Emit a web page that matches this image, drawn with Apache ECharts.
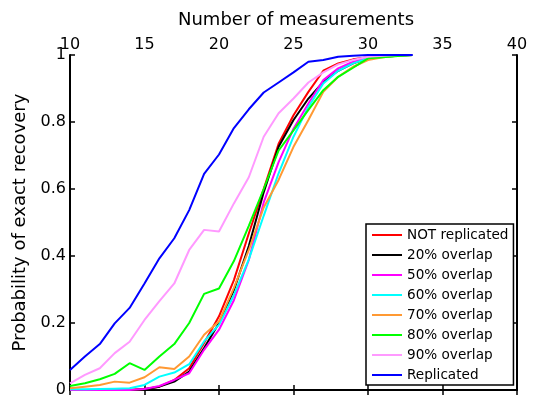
<!DOCTYPE html>
<html><head><meta charset="utf-8">
<script src="https://cdn.jsdelivr.net/npm/echarts@6/dist/echarts.min.js"></script>
<style>html,body{margin:0;padding:0;background:#fff}#c{width:534px;height:402px}</style>
</head><body><div id="c"></div>
<script>
var xValues = [10,11,12,13,14,15,16,17,18,19,20,21,22,23,24,25,26,27,28,29,30,31,32,33];
var notReplicated = [0,0,0,0,0,0.003,0.01,0.03,0.065,0.14,0.22,0.328,0.467,0.6,0.735,0.82,0.89,0.953,0.975,0.987,0.993,0.998,1,1];
var overlap20 = [0,0,0,0,0,0.002,0.01,0.025,0.055,0.125,0.2,0.298,0.43,0.59,0.726,0.806,0.87,0.92,0.953,0.975,0.99,0.995,0.998,1];
var overlap50 = [0,0,0,0,0,0.003,0.012,0.03,0.05,0.12,0.18,0.268,0.388,0.56,0.68,0.78,0.855,0.925,0.96,0.98,0.99,0.996,0.999,1];
var overlap60 = [0.002,0.002,0.003,0.004,0.005,0.015,0.04,0.052,0.077,0.145,0.195,0.283,0.39,0.52,0.647,0.756,0.845,0.915,0.953,0.975,0.99,0.995,0.998,1];
var overlap70 = [0.005,0.01,0.015,0.025,0.022,0.038,0.068,0.063,0.1,0.165,0.205,0.305,0.418,0.545,0.627,0.726,0.806,0.89,0.935,0.965,0.985,0.993,0.998,1];
var overlap80 = [0.012,0.02,0.032,0.048,0.08,0.06,0.1,0.137,0.2,0.287,0.303,0.385,0.49,0.6,0.715,0.775,0.836,0.895,0.935,0.962,0.99,0.993,0.997,1];
var overlap90 = [0.02,0.045,0.065,0.11,0.144,0.209,0.265,0.318,0.418,0.478,0.473,0.557,0.635,0.756,0.826,0.87,0.918,0.948,0.972,0.985,0.995,0.998,1,1];
var replicated = [0.06,0.1,0.137,0.199,0.245,0.318,0.393,0.453,0.537,0.645,0.703,0.782,0.838,0.888,0.918,0.948,0.98,0.985,0.995,0.998,1,1,1,1];
var seriesNames = ['NOT replicated','20% overlap','50% overlap','60% overlap','70% overlap','80% overlap','90% overlap','Replicated'];
var seriesData = [notReplicated, overlap20, overlap50, overlap60, overlap70, overlap80, overlap90, replicated];
var colors = ['#ff0000','#000000','#ff00ff','#00ffff','#ff9933','#00ff00','#ff99ff','#0000ff'];

var font = 'DejaVu Sans';
var chart = echarts.init(document.getElementById('c'), null, {renderer:'canvas'});
var axisLine = {show:true, lineStyle:{color:'#000', width:2}};
var tick = {show:true, inside:true, length:5, lineStyle:{color:'#000', width:1.5}};
var series = seriesNames.map(function(n,i){
  return {
    name:n, type:'line', xAxisIndex:0, yAxisIndex:0, symbol:'none',
    lineStyle:{color:colors[i], width:2}, itemStyle:{color:colors[i]},
    data: xValues.map(function(x,j){return [x, seriesData[i][j]];}),
    animation:false
  };
});
chart.setOption({
  animation:false,
  title:{text:'Number of measurements', left:291, top:6, textAlign:'center',
    textStyle:{fontFamily:font, fontSize:18, fontWeight:'normal', color:'#000'}},
  grid:{left:70, right:17, top:55, bottom:12},
  xAxis:[
    {type:'value', position:'top', min:10, max:40, interval:5,
     axisLine:axisLine, axisTick:tick, splitLine:{show:false},
     axisLabel:{fontFamily:font, fontSize:16, color:'#000', margin:2}},
    {type:'value', position:'bottom', min:10, max:40, interval:5,
     axisLine:axisLine, axisTick:tick, splitLine:{show:false},
     axisLabel:{show:false}}
  ],
  yAxis:[
    {type:'value', position:'left', min:0, max:1, interval:0.2,
     axisLine:axisLine, axisTick:tick, splitLine:{show:false},
     name:'Probability of exact recovery', nameLocation:'middle', nameRotate:90, nameGap:37,
     nameTextStyle:{fontFamily:font, fontSize:18, color:'#000'},
     axisLabel:{fontFamily:font, fontSize:16, color:'#000', margin:4,
       formatter:function(v){return (v===0||v===1)?String(v):v.toFixed(1);}}},
    {type:'value', position:'right', min:0, max:1, interval:0.2,
     axisLine:axisLine, axisTick:tick, splitLine:{show:false}, axisLabel:{show:false}}
  ],
  legend:{
    orient:'vertical', left:366, top:224, width:147,
    backgroundColor:'#fff', borderColor:'#000', borderWidth:1.5, borderRadius:0,
    padding:[4,5,3,6], itemWidth:30, itemHeight:2, itemGap:6, icon:'rect',
    textStyle:{fontFamily:font, fontSize:13.6, color:'#000', lineHeight:14},
    data:seriesNames
  },
  series:series
});
</script></body></html>
